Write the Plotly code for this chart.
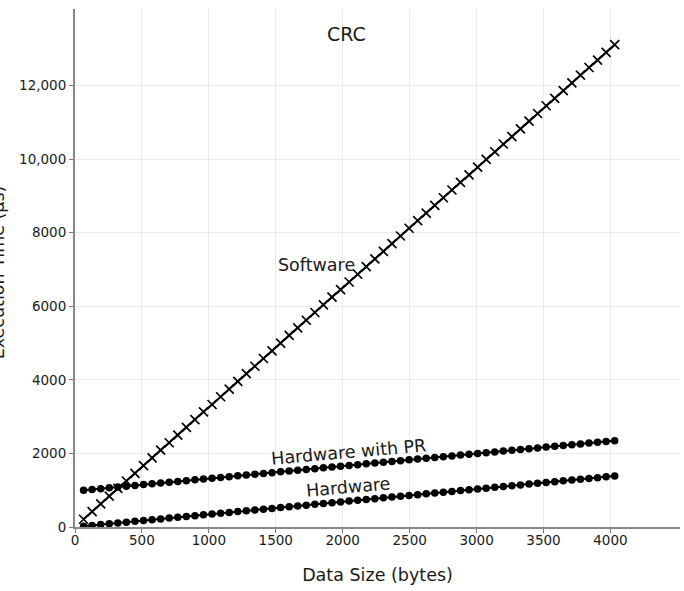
import plotly.graph_objects as go

data_size = [64, 128, 192, 256, 320, 384, 448, 512, 576, 640, 704, 768, 832, 896, 960, 1024,
             1088, 1152, 1216, 1280, 1344, 1408, 1472, 1536, 1600, 1664, 1728, 1792, 1856, 1920,
             1984, 2048, 2112, 2176, 2240, 2304, 2368, 2432, 2496, 2560, 2624, 2688, 2752, 2816,
             2880, 2944, 3008, 3072, 3136, 3200, 3264, 3328, 3392, 3456, 3520, 3584, 3648, 3712,
             3776, 3840, 3904, 3968, 4032]

software = [210, 420, 630, 840, 1050, 1250, 1460, 1670, 1880, 2090, 2290, 2500, 2710, 2920,
            3130, 3330, 3540, 3750, 3960, 4170, 4370, 4580, 4790, 5000, 5210, 5410, 5620, 5830,
            6040, 6250, 6450, 6660, 6870, 7080, 7290, 7490, 7700, 7910, 8120, 8330, 8530, 8740,
            8950, 9160, 9370, 9570, 9780, 9990, 10200, 10410, 10610, 10820, 11030, 11240, 11450,
            11650, 11860, 12070, 12280, 12490, 12690, 12900, 13110]

hardware_pr = [1000, 1022, 1043, 1065, 1087, 1108, 1130, 1152, 1174, 1195, 1217, 1239, 1260,
               1282, 1304, 1326, 1347, 1369, 1391, 1412, 1434, 1456, 1477, 1499, 1521, 1543,
               1564, 1586, 1608, 1629, 1651, 1673, 1694, 1716, 1738, 1760, 1781, 1803, 1825,
               1846, 1868, 1890, 1911, 1933, 1955, 1977, 1998, 2020, 2042, 2063, 2085, 2107,
               2128, 2150, 2172, 2194, 2215, 2237, 2259, 2280, 2302, 2324, 2345]

hardware = [22, 44, 66, 88, 110, 132, 154, 176, 198, 220, 242, 264, 286, 308, 330, 352, 374,
            396, 418, 440, 462, 484, 506, 528, 550, 572, 594, 616, 638, 660, 682, 704, 726, 748,
            770, 792, 814, 836, 858, 880, 902, 924, 946, 968, 990, 1012, 1034, 1056, 1078, 1100,
            1122, 1144, 1166, 1188, 1210, 1232, 1254, 1276, 1298, 1320, 1342, 1364, 1386]

x_ticks = [0, 500, 1000, 1500, 2000, 2500, 3000, 3500, 4000]
y_ticks = [0, 2000, 4000, 6000, 8000, 10000, 12000]
y_tick_text = ["0", "2000", "4000", "6000", "8000", "10,000", "12,000"]

FONT = "DejaVu Sans"
TXT = "#1a1a1a"

fig = go.Figure()
fig.add_trace(go.Scatter(x=data_size, y=software, mode="lines+markers", name="Software",
                         line=dict(color="black", width=2),
                         marker=dict(symbol="x-thin", size=9, line=dict(color="black", width=1.7))))
fig.add_trace(go.Scatter(x=data_size, y=hardware_pr, mode="lines+markers", name="Hardware with PR",
                         line=dict(color="black", width=2),
                         marker=dict(symbol="circle", size=7.5, color="black")))
fig.add_trace(go.Scatter(x=data_size, y=hardware, mode="lines+markers", name="Hardware",
                         line=dict(color="black", width=2),
                         marker=dict(symbol="circle", size=7.5, color="black")))

fig.update_layout(
    width=684, height=591,
    margin=dict(l=75, r=4, t=9, b=64),
    paper_bgcolor="white", plot_bgcolor="white",
    showlegend=False,
    font=dict(family=FONT, size=13.5, color=TXT),
    xaxis=dict(range=[0, 4520], tickvals=x_ticks, ticks="outside", ticklen=4, tickcolor="#777",
               ticklabelstandoff=-4,
               showline=True, linecolor="#888", linewidth=2, showgrid=True, gridcolor="#ebebeb",
               zeroline=False, tickfont=dict(size=13.5, family=FONT, color=TXT),
               title=dict(text="Data Size (bytes)", font=dict(size=17.5, family=FONT, color=TXT),
                          standoff=22)),
    yaxis=dict(range=[0, 14080], tickvals=y_ticks, ticktext=y_tick_text, ticks="outside",
               ticklen=4, tickcolor="#777", showline=True, linecolor="#888", linewidth=2,
               showgrid=True, gridcolor="#ebebeb", zeroline=False,
               tickfont=dict(size=13.5, family=FONT, color=TXT)),
    annotations=[
        dict(text="CRC", xref="paper", yref="paper", x=0.448, y=0.952, xanchor="center",
             yanchor="middle", showarrow=False, font=dict(size=19, family=FONT, color=TXT)),
        dict(text="Execution Time (μs)", xref="paper", yref="paper", x=-0.127, y=0.492,
             xanchor="center", yanchor="middle", textangle=-90, showarrow=False,
             font=dict(size=17.5, family=FONT, color=TXT)),
        dict(text="Software", x=1806, y=7128, showarrow=False, xanchor="center", yanchor="middle",
             font=dict(size=17.5, family=FONT, color=TXT)),
        dict(text="Hardware with PR", x=2046, y=2040, showarrow=False, textangle=-5,
             xanchor="center", yanchor="middle", font=dict(size=17.5, family=FONT, color=TXT)),
        dict(text="Hardware", x=2046, y=1081, showarrow=False, textangle=-5,
             xanchor="center", yanchor="middle", font=dict(size=17.5, family=FONT, color=TXT)),
    ],
)

fig.write_html("out.html")
